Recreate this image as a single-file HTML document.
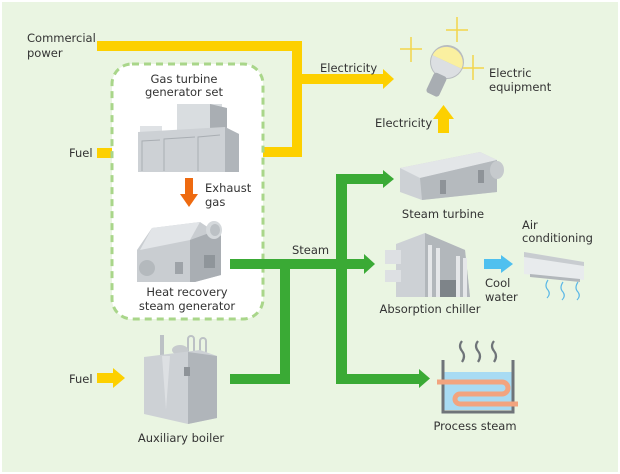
<!DOCTYPE html>
<html><head><meta charset="utf-8"><style>
html,body{margin:0;padding:0;background:#fff}
svg{display:block}
text{font-family:"DejaVu Sans","Liberation Sans",sans-serif;font-size:11.5px;fill:#333}
</style></head><body>
<svg width="620" height="474" viewBox="0 0 620 474" xmlns="http://www.w3.org/2000/svg">
<rect x="0" y="0" width="620" height="474" fill="#fff"/>
<rect x="2" y="2" width="616" height="470" fill="#eaf5e2"/>

<g fill="#fdd000">
<rect x="97" y="41" width="205" height="10"/>
<rect x="292" y="41" width="10" height="116"/>
<rect x="248" y="147" width="54" height="10"/>
<rect x="302" y="74" width="82" height="10"/>
<polygon points="383,69 394,79 383,89"/>
<rect x="438" y="118" width="11" height="15"/>
<polygon points="433,119 443.5,105 454,119"/>
<rect x="97" y="148" width="18" height="10"/>
<polygon points="113,143 125,153 113,163"/>
<rect x="97" y="373" width="18" height="10"/>
<polygon points="113,368 125,378 113,388"/>
</g>

<rect x="112" y="64" width="151" height="255" rx="20" fill="#fff" stroke="#a9d68a" stroke-width="3" stroke-dasharray="7,5"/>

<rect x="177" y="104" width="45" height="26" fill="#d9dde0"/>
<polygon points="210,104 227,108 227,130 210,130" fill="#a9aeb3"/>
<rect x="140" y="126" width="22" height="10" fill="#dfe2e5"/>
<polygon points="138,132 225,127 239,134 239,172 138,172" fill="#cdd1d5"/>
<polygon points="225,127 239,134 239,172 225,172" fill="#b0b5ba"/>
<g stroke="#a9aeb3" stroke-width="1" fill="none">
<polyline points="142,171 142,141 160,140"/>
<polyline points="164,171 164,139 195,137"/>
<polyline points="198,171 198,137 220,135"/>
</g>

<rect x="185" y="178" width="8" height="17" fill="#ee6a10"/>
<polygon points="180,194 198,194 189,207" fill="#ee6a10"/>

<polygon points="137,250 152,228 200,222 212,230 221,232 221,275 195,282 137,282" fill="#c9cdd1"/>
<polygon points="152,228 200,222 190,240 140,250" fill="#e2e5e8"/>
<polygon points="190,240 212,232 221,236 221,275 195,282 190,282" fill="#a9aeb3"/>
<ellipse cx="214" cy="230" rx="8" ry="9" fill="#d5d9dc"/>
<ellipse cx="215" cy="230" rx="5" ry="6" fill="#bcc1c5"/>
<circle cx="147" cy="268" r="8" fill="#b4b9bd"/>
<rect x="175" y="262" width="8" height="12" fill="#9ea3a8"/>
<rect x="204" y="255" width="11" height="13" fill="#8f959a"/>

<g fill="#3aaa35">
<rect x="230" y="259" width="135" height="10"/>
<polygon points="364,254 375,264 364,274"/>
<rect x="336" y="174" width="11" height="210"/>
<rect x="336" y="174" width="48" height="10"/>
<polygon points="383,170 394,179 383,188"/>
<rect x="336" y="374" width="84" height="10"/>
<polygon points="419,369 430,378.5 419,388"/>
<rect x="280" y="259" width="10" height="125"/>
<rect x="230" y="374" width="60" height="10"/>
</g>

<g>
<line x1="411" y1="37" x2="411" y2="62" stroke="#f3d54a" stroke-width="1.5"/>
<line x1="400" y1="49" x2="422" y2="49" stroke="#f3d54a" stroke-width="1.5"/>
<line x1="457" y1="17" x2="457" y2="42" stroke="#f3d54a" stroke-width="1.5"/>
<line x1="446" y1="30" x2="468" y2="30" stroke="#f3d54a" stroke-width="1.5"/>
<line x1="473" y1="55" x2="473" y2="80" stroke="#f3d54a" stroke-width="1.5"/>
<line x1="462" y1="68" x2="484" y2="68" stroke="#f3d54a" stroke-width="1.5"/>
<g transform="rotate(25 447 62)">
<circle cx="447" cy="62" r="17" fill="#b8bcc0"/>
<path d="M431,62 A16,15 0 0 1 463,62 Z" fill="#faf0a0"/>
<path d="M431,62 A16,16 0 0 0 463,62 Z" fill="#dcdfe2"/>
<rect x="440" y="76" width="14" height="22" rx="3" fill="#a8adb2"/>
</g>
</g>

<polygon points="400,168 480,152 497,160 497,192 422,200 400,192" fill="#cdd1d5"/>
<polygon points="400,168 480,152 497,160 420,178" fill="#e3e6e8"/>
<polygon points="420,178 497,160 497,192 422,200" fill="#b5babe"/>
<ellipse cx="497" cy="170" rx="7" ry="9" fill="#c6cacd"/>
<rect x="440" y="180" width="6" height="14" fill="#8e9398"/>
<rect x="478" y="170" width="6" height="13" fill="#8e9398"/>

<polygon points="396,244 425,233 465,250 470,297 396,297" fill="#cdd1d5"/>
<rect x="385" y="250" width="16" height="14" fill="#dde0e3"/>
<rect x="385" y="270" width="16" height="12" fill="#dde0e3"/>
<polygon points="425,233 465,250 470,297 425,297" fill="#b2b7bb"/>
<g fill="#e5e7e9"><rect x="428" y="245" width="4" height="52"/><rect x="436" y="248" width="4" height="49"/><rect x="456" y="256" width="4" height="41"/><rect x="463" y="258" width="4" height="39"/></g>
<rect x="440" y="280" width="16" height="17" fill="#7e8489"/>

<rect x="484" y="259" width="18" height="10" fill="#4fc0ef"/>
<polygon points="501,255 513,264 501,273" fill="#4fc0ef"/>

<polygon points="524,252 584,262 584,280 524,274" fill="#e8ebed"/>
<polygon points="524,252 584,262 584,266 524,257" fill="#c8ccd0"/>
<polygon points="530,274 580,279 580,282 530,277" fill="#b2b7bb"/>
<g stroke="#5ab8e6" stroke-width="1.2" fill="none">
<path d="M548,280 q-4,6 0,10 q3,4 -1,8"/>
<path d="M563,282 q-4,6 0,10 q3,4 -1,8"/>
<path d="M578,282 q-4,6 0,10 q3,4 -1,8"/>
</g>

<rect x="444" y="372" width="68" height="38" fill="#a8dbf3"/>
<path d="M443,360 V412 H513 V360" fill="none" stroke="#6f7479" stroke-width="3"/>
<path d="M437,382 H502 A6,6 0 0 1 502,394 H460 A5,5 0 0 0 460,404 H518" fill="none" stroke="#f2a47f" stroke-width="5"/>
<g stroke="#6f7479" stroke-width="2.2" fill="none">
<path d="M462,341 q-4,5 0,10 q4,5 0,11"/>
<path d="M478,341 q-4,5 0,10 q4,5 0,11"/>
<path d="M494,341 q-4,5 0,10 q4,5 0,11"/>
</g>

<rect x="160" y="335" width="4" height="20" fill="#bcc1c5"/>
<rect x="188" y="336" width="6" height="18" rx="3" fill="none" stroke="#bcc1c5" stroke-width="2"/>
<rect x="200" y="338" width="6" height="16" rx="3" fill="none" stroke="#bcc1c5" stroke-width="2"/>
<ellipse cx="180" cy="350" rx="8" ry="5" fill="#c6cacd"/>
<polygon points="144,357 200,350 217,356 217,418 188,424 144,414" fill="#cdd1d5"/>
<polygon points="188,352 217,356 217,418 188,424" fill="#b0b5ba"/>
<polygon points="162,356 170,356 166,410" fill="#dde0e3"/>
<rect x="184" y="367" width="6" height="9" fill="#8e9398"/>

<text x="27" y="42">Commercial</text>
<text x="27" y="57">power</text>
<text x="320" y="72">Electricity</text>
<text x="489" y="77">Electric</text>
<text x="489" y="91">equipment</text>
<text x="375" y="127">Electricity</text>
<text x="69" y="157">Fuel</text>
<text x="184" y="83" text-anchor="middle">Gas turbine</text>
<text x="184" y="96" text-anchor="middle">generator set</text>
<text x="205" y="192">Exhaust</text>
<text x="205" y="206">gas</text>
<text x="187" y="296" text-anchor="middle">Heat recovery</text>
<text x="187" y="310" text-anchor="middle">steam generator</text>
<text x="292" y="254">Steam</text>
<text x="443" y="218" text-anchor="middle">Steam turbine</text>
<text x="522" y="229">Air</text>
<text x="522" y="242">conditioning</text>
<text x="430" y="313" text-anchor="middle">Absorption chiller</text>
<text x="485" y="287">Cool</text>
<text x="485" y="301">water</text>
<text x="69" y="383">Fuel</text>
<text x="181" y="442" text-anchor="middle">Auxiliary boiler</text>
<text x="475" y="430" text-anchor="middle">Process steam</text>
</svg>
</body></html>
